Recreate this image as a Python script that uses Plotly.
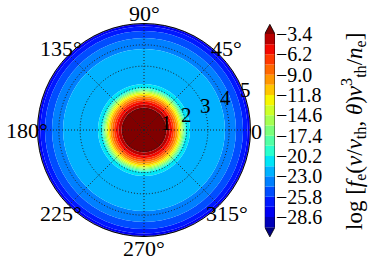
import numpy as np
import plotly.graph_objects as go

# ---------------- data ----------------
# contour levels of log[f_e v_th^3 / n_e]
levels = [-30.0, -28.6, -27.2, -25.8, -24.4, -23.0, -21.6, -20.2, -18.8, -17.4,
          -16.0, -14.6, -13.2, -11.8, -10.4, -9.0, -7.6, -6.2, -4.8, -3.4]
# radius v/v_th at which the (isotropic) distribution crosses each level
# (None: level not reached inside the plotted range)
level_radius = [None, 4.97, 4.86, 4.65, 4.32, 3.80, 2.16, 1.97, 1.92, 1.87,
                1.82, 1.77, 1.71, 1.65, 1.58, 1.50, 1.41, 1.32, 1.20, 1.06]
r_max = 5.0
cbar_ticks = [-28.6, -25.8, -23.0, -20.2, -17.4, -14.6, -11.8, -9.0, -6.2, -3.4]
cbar_ticktext = ["\u221228.6", "\u221225.8", "\u221223.0", "\u221220.2", "\u221217.4",
                 "\u221214.6", "\u221211.8", "\u22129.0", "\u22126.2", "\u22123.4"]
radial_ticks = [1, 2, 3, 4, 5]
radial_ticktext = ["1", "2", "3", "4", "5"]
angle_ticks = [0, 45, 90, 135, 180, 225, 270, 315]
angle_ticktext = ["0", "45°", "90°", "135°", "180°", "225°", "270°", "315°"]

FONT = '"Liberation Serif", "DejaVu Serif", "Times New Roman", serif'

W, H = 374, 261
# polar plot geometry in pixels (style)
CX, CY, RAD = 144.0, 130.0, 106.5
LABEL_PAD = 1.1      # angle labels at 1.1 x rim radius
RLABEL_ANGLE = 22.5  # radial labels direction
TEXT_DY = 1          # optical centering of digits

# ---------------- jet colormap (matplotlib segment data) ----------------
_R = ([0, 0.35, 0.66, 0.89, 1], [0, 0, 1, 1, 0.5])
_G = ([0, 0.125, 0.375, 0.64, 0.91, 1], [0, 0, 1, 1, 0, 0])
_B = ([0, 0.11, 0.34, 0.65, 1], [0.5, 1, 1, 0, 0])


def jet(x):
    r = np.interp(x, *_R)
    g = np.interp(x, *_G)
    b = np.interp(x, *_B)
    return "rgb(%d,%d,%d)" % (round(r * 255), round(g * 255), round(b * 255))


n_col = len(levels)  # bands 0 (under) .. n_col (over)
band_colors = [jet(i / n_col) for i in range(n_col + 1)]

# ---------------- polar contour bands ----------------
b_base, b_r, b_col = [], [], []
for i in range(1, n_col + 1):
    outer = level_radius[i - 1] if level_radius[i - 1] is not None else r_max
    inner = level_radius[i] if i < n_col else 0.0
    b_base.append(inner)
    b_r.append(outer - inner)
    b_col.append(band_colors[i])

fig = go.Figure()
fig.add_trace(go.Barpolar(
    r=b_r, base=b_base, theta=[0] * len(b_r), width=[360] * len(b_r),
    marker=dict(color=b_col, line=dict(width=0)),
    hoverinfo="skip", showlegend=False,
))

# dotted grid drawn above the filled contours
circ_t = np.linspace(0, 360, 361)
for rv in radial_ticks[:-1]:
    fig.add_trace(go.Scatterpolar(
        r=[rv] * len(circ_t), theta=circ_t, mode="lines",
        line=dict(color="#222", width=1, dash="1px,2px"),
        hoverinfo="skip", showlegend=False))
sp_r, sp_t = [], []
for a in angle_ticks:
    sp_r += [0, r_max, None]
    sp_t += [a, a, None]
fig.add_trace(go.Scatterpolar(
    r=sp_r, theta=sp_t, mode="lines",
    line=dict(color="#222", width=1, dash="1px,2px"),
    hoverinfo="skip", showlegend=False))

# ---------------- colorbar (cartesian subplot) ----------------
ext = 0.05 * (levels[-1] - levels[0])
fig.add_trace(go.Bar(
    x=[0] * (n_col - 1), y=[levels[i] - levels[i - 1] for i in range(1, n_col)],
    base=levels[:-1], width=1,
    marker=dict(color=band_colors[1:n_col], line=dict(width=0)),
    xaxis="x2", yaxis="y2", hoverinfo="skip", showlegend=False))
fig.add_trace(go.Scatter(
    x=[-0.5, 0, 0.5, -0.5], y=[levels[-1], levels[-1] + ext, levels[-1], levels[-1]],
    fill="toself", fillcolor=band_colors[-1], mode="lines", line=dict(width=0),
    xaxis="x2", yaxis="y2", hoverinfo="skip", showlegend=False))
fig.add_trace(go.Scatter(
    x=[-0.5, 0, 0.5, -0.5], y=[levels[0], levels[0] - ext, levels[0], levels[0]],
    fill="toself", fillcolor=band_colors[0], mode="lines", line=dict(width=0),
    xaxis="x2", yaxis="y2", hoverinfo="skip", showlegend=False))
fig.add_trace(go.Scatter(
    x=[-0.5, -0.5, 0, 0.5, 0.5, 0, -0.5],
    y=[levels[0], levels[-1], levels[-1] + ext, levels[-1], levels[0], levels[0] - ext, levels[0]],
    mode="lines", line=dict(color="black", width=0.8),
    xaxis="x2", yaxis="y2", hoverinfo="skip", showlegend=False))

px_per_unit = 7.262
y_top = -3.4 + 34 / px_per_unit
y_bot = -3.4 - (H - 34) / px_per_unit

annotations = []
# angle labels just outside the rim
for a, t in zip(angle_ticks, angle_ticktext):
    rr = RAD * LABEL_PAD
    px = CX + rr * np.cos(np.radians(a))
    py = CY - rr * np.sin(np.radians(a)) + TEXT_DY
    if a == 0:
        px -= 5  # only the "0" of "0°" is visible left of the colorbar
    annotations.append(dict(
        text=t, x=px / W, y=(H - py) / H, xref="paper", yref="paper",
        showarrow=False, xanchor="center", yanchor="middle",
        font=dict(size=22, family=FONT, color="black")))
# radial labels along the 22.5 deg direction
for rv, t in zip(radial_ticks, radial_ticktext):
    d = RAD * rv / r_max + 3
    px = CX + d * np.cos(np.radians(RLABEL_ANGLE))
    py = CY - d * np.sin(np.radians(RLABEL_ANGLE)) + 1 + TEXT_DY
    annotations.append(dict(
        text=t, x=px / W, y=(H - py) / H, xref="paper", yref="paper",
        showarrow=False, xanchor="center", yanchor="middle",
        font=dict(size=21, family=FONT, color="black")))

annotations.append(dict(
    text="log [<i>f</i><sub>e</sub>(<i>v</i>/<i>v</i><sub>th</sub>, <i>θ</i>)"
         "<i>v</i><sup>3</sup><sub>th</sub>/<i>n</i><sub>e</sub>]",
    x=353 / W, y=(H - 132) / H, xref="paper", yref="paper",
    textangle=-90, showarrow=False, xanchor="center", yanchor="middle",
    font=dict(size=23, family=FONT, color="black")))

fig.update_layout(
    width=W, height=H,
    margin=dict(l=0, r=0, t=0, b=0),
    paper_bgcolor="white", plot_bgcolor="white",
    font=dict(family=FONT, color="black"),
    polar=dict(
        domain=dict(x=[(CX - RAD) / W, (CX + RAD) / W],
                    y=[(H - CY - RAD) / H, (H - CY + RAD) / H]),
        bgcolor="white", barmode="overlay", bargap=0,
        radialaxis=dict(range=[0, r_max], tickvals=radial_ticks, showticklabels=False,
                        showline=False, showgrid=False, ticks=""),
        angularaxis=dict(tickvals=angle_ticks, showticklabels=False,
                         direction="counterclockwise", rotation=0,
                         showgrid=False, showline=True, linecolor="black", linewidth=1,
                         ticks=""),
    ),
    xaxis2=dict(domain=[264.7 / W, 275.0 / W], range=[-0.5, 0.5], visible=False,
                anchor="y2", fixedrange=True),
    yaxis2=dict(domain=[0, 1], range=[y_bot, y_top], anchor="x2", side="right",
                tickvals=cbar_ticks, ticktext=cbar_ticktext, ticks="",
                showgrid=False, zeroline=False, showline=False,
                tickfont=dict(size=20, family=FONT, color="black")),
    showlegend=False,
    annotations=annotations,
)

fig.write_html("out.html", config={"displayModeBar": False, "staticPlot": True},
               post_script="document.body.style.margin='0';")
